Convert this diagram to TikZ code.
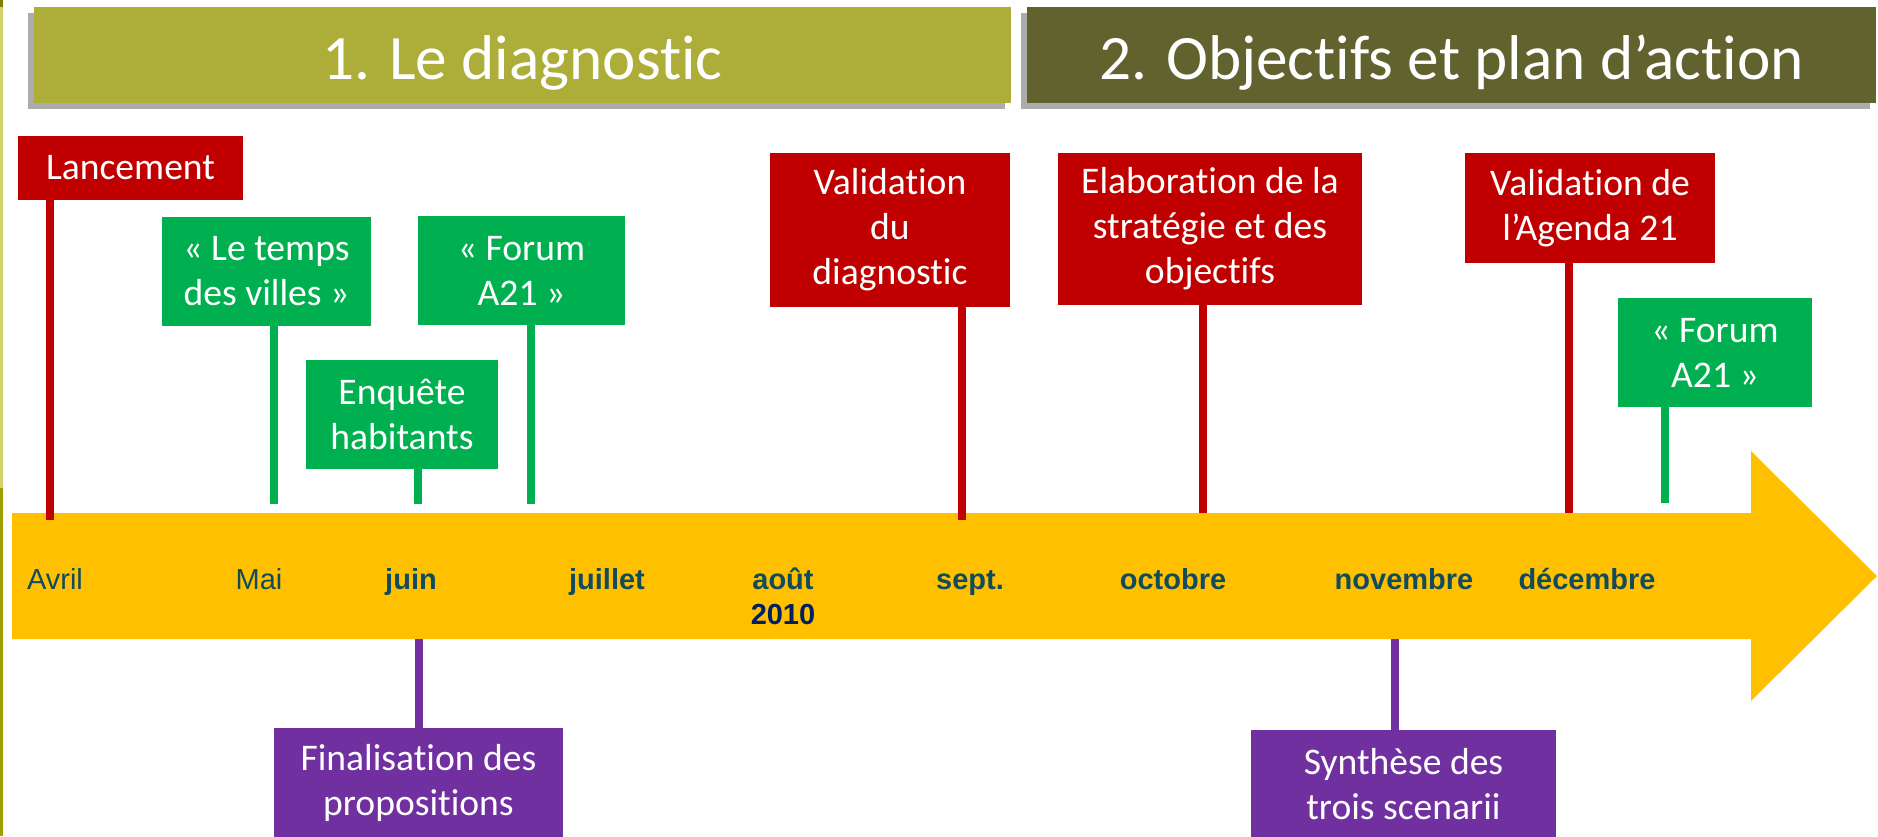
\documentclass[tikz,border=0pt]{standalone}
\usepackage{fontspec}
\setmainfont{Carlito}[Ligatures=CommonOff]
\newfontfamily\monthfont{Liberation Sans}
\usetikzlibrary{shadows}
\definecolor{barone}{HTML}{ADAD3A}
\definecolor{bartwo}{HTML}{61622E}
\definecolor{arrowyel}{HTML}{FFC000}
\definecolor{etapered}{HTML}{C00000}
\definecolor{etapegreen}{HTML}{00B050}
\definecolor{etapepurple}{HTML}{7030A0}
\definecolor{monthcol}{HTML}{124B5C}
\definecolor{yearcol}{HTML}{002060}
\definecolor{stripdark}{HTML}{7F7F00}
\definecolor{striplight}{HTML}{D3D36B}
\definecolor{stripmid}{HTML}{9E9E00}

\begin{document}
\begin{tikzpicture}[x=0.2mm,y=-0.2mm,
  etape/.style={rectangle, inner sep=0pt, text=white, align=center,
    font=\fontsize{21.4}{25.6}\selectfont},
  phase/.style={rectangle, inner sep=0pt, text=white,
    font=\fontsize{36}{40}\selectfont,
    general shadow={fill=gray!65, shadow xshift=-1.2mm, shadow yshift=-1.2mm}},
  tige/.style={line width=1.6mm},
  mois/.style={anchor=base, text=monthcol, font=\monthfont\fontsize{16.5}{18}\selectfont}]
\useasboundingbox (0,0) rectangle (1878,836);

\fill [stripdark] (0,0) rectangle (3,7);
\fill [striplight] (0,7) rectangle (3,488);
\fill [stripmid] (0,488) rectangle (3,836);

\node (diag) at (522.5,55) [phase, fill=barone, minimum width=195.4mm, minimum height=19.2mm] {\raisebox{-4.8mm}[0pt][0pt]{1. Le diagnostic}};
\node (plan) at (1451.5,55) [phase, fill=bartwo, minimum width=169.8mm, minimum height=19.2mm] {\raisebox{-4.8mm}[0pt][0pt]{2. Objectifs et plan d’action}};

\fill [arrowyel] (12,513) -- (1751,513) -- (1751,451) -- (1877,576) --
(1751,701) -- (1751,639) -- (12,639) -- cycle;

\foreach \x / \m [count=\i] in {55/Avril,259/Mai}
  \node (m\i) at (\x,589) [mois] {\m};
\foreach \x / \m [count=\i] in {411/juin,607/juillet,783/août,970/sept.,1173/octobre,1404/novembre,1587/décembre}
  \node (b\i) at (\x,589) [mois] {\bfseries \m};
\node (annee) at (783,624) [mois, text=yearcol] {\bfseries 2010};

\node (lanc) at (130.5,168) [etape, fill=etapered, minimum width=45mm, minimum height=12.8mm] {Lancement};
\node (temps) at (266.5,271.5) [etape, fill=etapegreen, minimum width=41.8mm, minimum height=21.8mm] {« Le temps\\des villes »};
\node (enq) at (402,414.5) [etape, fill=etapegreen, minimum width=38.4mm, minimum height=21.8mm] {Enquête\\habitants};
\node (forumA) at (521.5,270.5) [etape, fill=etapegreen, minimum width=41.4mm, minimum height=21.8mm] {« Forum\\A21 »};
\node (valid) at (890,230) [etape, fill=etapered, minimum width=48mm, minimum height=30.8mm] {Validation\\du\\diagnostic};
\node (elab) at (1210,229) [etape, fill=etapered, minimum width=60.8mm, minimum height=30.4mm] {Elaboration de la\\stratégie et des\\objectifs};
\node (agenda) at (1590,208) [etape, fill=etapered, minimum width=50mm, minimum height=22mm] {Validation de\\l’Agenda 21};
\node (forumB) at (1715,352.5) [etape, fill=etapegreen, minimum width=38.8mm, minimum height=21.8mm] {« Forum\\A21 »};
\node (final) at (418.5,782.5) [etape, fill=etapepurple, minimum width=57.8mm, minimum height=21.8mm] {Finalisation des\\propositions};
\node (synth) at (1403.5,784.5) [etape, fill=etapepurple, minimum width=61mm, minimum height=21.8mm] {Synthèse des\\trois scenarii};

\foreach \n / \x / \y / \c in {lanc/50/520/etapered, temps/274/504/etapegreen,
  enq/418/504/etapegreen, forumA/531/504/etapegreen, valid/962/520/etapered,
  elab/1203/513/etapered, agenda/1569/513/etapered, forumB/1665/503/etapegreen}
{
\coordinate (p\n) at (\x,\y);
\draw [tige, \c] (\n.south -| p\n) -- (p\n);
}
\foreach \n / \x in {final/419, synth/1395}
{
\coordinate (p\n) at (\x,639);
\draw [tige, etapepurple] (p\n) -- (\n.north -| p\n);
}
\end{tikzpicture}
\end{document}
